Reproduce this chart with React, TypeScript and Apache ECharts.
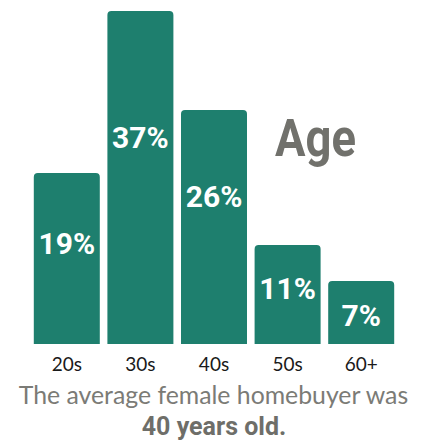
import React, { useEffect, useRef } from "react";
import * as echarts from "echarts";

const categories = ["20s", "30s", "40s", "50s", "60+"];
const shares = [19, 37, 26, 11, 7];
const labelFrac = ["41%", "38%", "37%", "44%", "54%"];

export default function App() {
  const ref = useRef<HTMLDivElement>(null);
  useEffect(() => {
    document.body.style.margin = "0";
    const chart = echarts.init(ref.current!, null, { renderer: "svg" });
    const boldFont = "Roboto, sans-serif";
    chart.setOption({
      animation: false,
      grid: { left: 30, right: 30, top: 11, bottom: 98 },
      xAxis: {
        type: "category",
        data: categories,
        axisLine: { show: false },
        axisTick: { show: false },
        axisLabel: {
          color: "#1a1a1a",
          fontSize: 19,
          fontFamily: "Lato, sans-serif",
          margin: 10,
        },
      },
      yAxis: {
        type: "value",
        min: 0,
        max: 37,
        show: false,
        splitLine: { show: false },
      },
      series: [
        {
          type: "bar",
          barWidth: 66,
          data: shares.map((v, i) => ({
            value: v,
            label: { position: ["50%", labelFrac[i]] },
          })),
          itemStyle: { color: "#1e7f6e", borderRadius: [4, 4, 0, 0] },
          label: {
            show: true,
            formatter: "{c}%",
            color: "#ffffff",
            fontSize: 30,
            fontWeight: "bold",
            fontFamily: boldFont,
            align: "center",
            verticalAlign: "middle",
          },
        },
      ],
      graphic: [
        {
          type: "text",
          x: 275,
          y: 164,
          scaleX: 0.89,
          style: {
            text: "Age",
            fill: "#71716c",
            fontSize: 51,
            fontWeight: "bold",
            fontFamily: boldFont,
            textVerticalAlign: "bottom",
            verticalAlign: "alphabetic",
          },
        },
        {
          type: "text",
          left: "center",
          top: 382,
          style: {
            text: "The average female homebuyer was",
            fill: "#7b7b76",
            fontSize: 24.8,
            fontFamily: "Lato, sans-serif",
          },
        },
        {
          type: "text",
          left: "center",
          top: 414,
          style: {
            text: "40 years old.",
            fill: "#6e6e69",
            fontSize: 25,
            fontWeight: "bold",
            fontFamily: boldFont,
          },
        },
      ],
    });
    return () => chart.dispose();
  }, []);
  return <div ref={ref} style={{ width: 428, height: 442 }} />;
}
